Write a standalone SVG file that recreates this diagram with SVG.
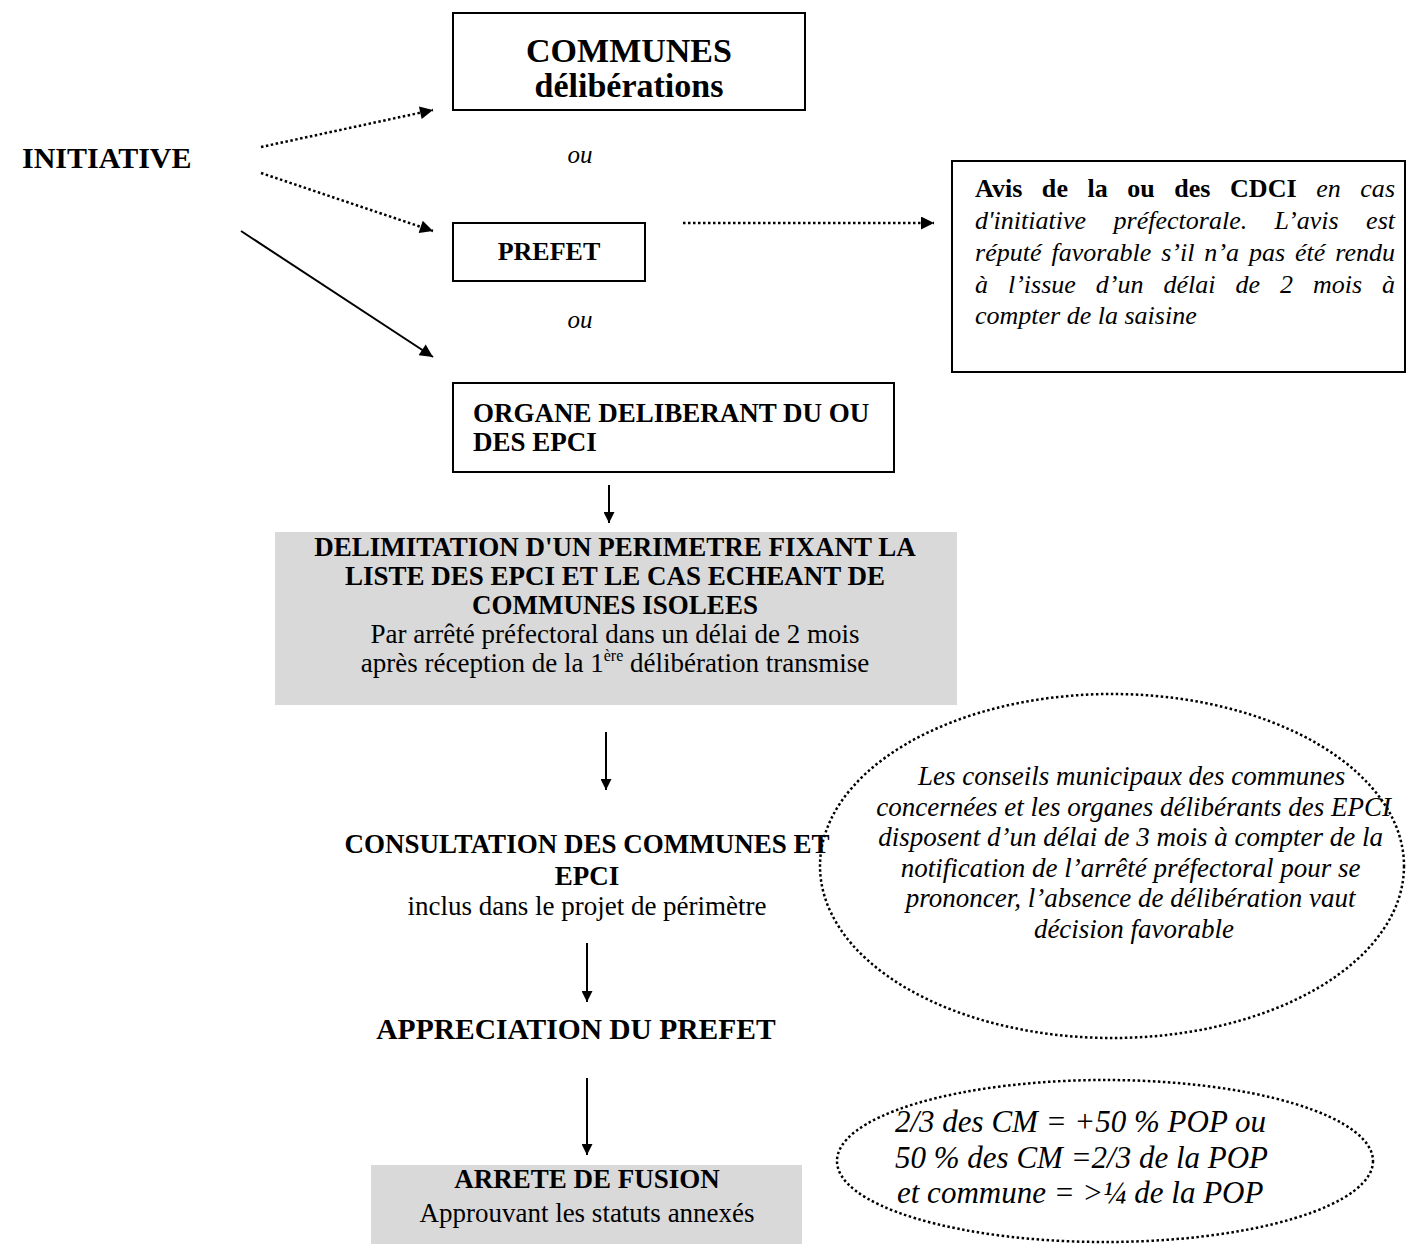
<svg xmlns="http://www.w3.org/2000/svg" width="1407" height="1244" viewBox="0 0 1407 1244">
<defs>
<style>
text{font-family:"Liberation Serif","Times New Roman",serif;fill:#000}
.b{font-weight:bold}
.i{font-style:italic}
.box{fill:#fff;stroke:#000;stroke-width:2}
.gray{fill:#d9d9d9;stroke:none}
.solid{stroke:#000;stroke-width:2;fill:none}
.dot{stroke:#000;stroke-width:2.5;fill:none;stroke-dasharray:2.5 2.5}
.oval{stroke:#000;stroke-width:2.5;fill:none;stroke-dasharray:2.5 2.5}
</style>
<marker id="ah" viewBox="0 0 10 10" refX="10" refY="5" markerWidth="16" markerHeight="13" markerUnits="userSpaceOnUse" orient="auto">
<path d="M0,0 L10,5 L0,10 z" fill="#000"/>
</marker>
<marker id="ahv" viewBox="0 0 10 10" refX="10" refY="5" markerWidth="14" markerHeight="11" markerUnits="userSpaceOnUse" orient="auto">
<path d="M0,0 L10,5 L0,10 z" fill="#000"/>
</marker>
</defs>
<rect width="1407" height="1244" fill="#fff"/>

<g id="initiative">
<text class="b" x="22" y="168" font-size="30">INITIATIVE</text>
</g>

<g id="communes">
<rect class="box" x="453" y="13" width="352" height="97"/>
<text class="b" x="629" y="62" font-size="34" text-anchor="middle">COMMUNES</text>
<text class="b" x="629" y="97" font-size="34" text-anchor="middle">délibérations</text>
</g>

<g id="ou1"><text class="i" x="580" y="163" font-size="25" text-anchor="middle">ou</text></g>

<g id="prefet">
<rect class="box" x="453" y="223" width="192" height="58"/>
<text class="b" x="549" y="260" font-size="26" text-anchor="middle">PREFET</text>
</g>

<g id="ou2"><text class="i" x="580" y="328" font-size="25" text-anchor="middle">ou</text></g>

<g id="cdci">
<rect class="box" x="952" y="161" width="453" height="211"/>
<text font-size="26" x="975" y="197" word-spacing="12.9" textLength="420" lengthAdjust="spacing"><tspan class="b">Avis de la ou des CDCI</tspan><tspan class="i"> en cas</tspan></text>
<text class="i" font-size="26" x="975" y="229" word-spacing="20.9" textLength="420" lengthAdjust="spacing">d'initiative préfectorale. L’avis est</text>
<text class="i" font-size="26" x="975" y="261" word-spacing="3.3" textLength="420" lengthAdjust="spacing">réputé favorable s’il n’a pas été rendu</text>
<text class="i" font-size="26" x="975" y="293" word-spacing="13.5" textLength="420" lengthAdjust="spacing">à l’issue d’un délai de 2 mois à</text>
<text class="i" font-size="26" x="975" y="324">compter de la saisine</text>
</g>

<g id="organe">
<rect class="box" x="453" y="383" width="441" height="89"/>
<text class="b" x="473" y="422" font-size="27">ORGANE DELIBERANT DU OU</text>
<text class="b" x="473" y="451" font-size="27">DES EPCI</text>
</g>

<g id="delimitation">
<rect class="gray" x="275" y="532" width="682" height="173"/>
<text class="b" x="615" y="556" font-size="27" text-anchor="middle">DELIMITATION D'UN PERIMETRE FIXANT LA</text>
<text class="b" x="615" y="585" font-size="27" text-anchor="middle">LISTE DES EPCI ET LE CAS ECHEANT DE</text>
<text class="b" x="615" y="614" font-size="27" text-anchor="middle">COMMUNES ISOLEES</text>
<text x="615" y="643" font-size="27" text-anchor="middle">Par arrêté préfectoral dans un délai de 2 mois</text>
<text x="615" y="672" font-size="27" text-anchor="middle">après réception de la 1<tspan font-size="16" dy="-11">ère</tspan><tspan dy="11"> délibération transmise</tspan></text>
</g>

<g id="consultation">
<text class="b" x="587" y="853" font-size="27" text-anchor="middle">CONSULTATION DES COMMUNES  ET</text>
<text class="b" x="587" y="885" font-size="27" text-anchor="middle">EPCI</text>
<text x="587" y="915" font-size="27" text-anchor="middle">inclus dans le projet de périmètre</text>
</g>

<g id="appreciation">
<text class="b" x="576" y="1039" font-size="29.5" text-anchor="middle">APPRECIATION DU PREFET</text>
</g>

<g id="arrete">
<rect class="gray" x="371" y="1165" width="431" height="79"/>
<text class="b" x="587" y="1188" font-size="27" text-anchor="middle">ARRETE DE FUSION</text>
<text x="587" y="1222" font-size="27" text-anchor="middle">Approuvant les statuts annexés</text>
</g>

<g id="note-conseils">
<ellipse class="oval" cx="1112" cy="866" rx="292" ry="172"/>
<text class="i" font-size="27" text-anchor="middle">
<tspan x="1135" y="785">Les conseils municipaux des communes</tspan>
<tspan x="1137" y="816">concernées et les organes délibérants des EPCI</tspan>
<tspan x="1134" y="846">disposent d’un délai de 3 mois à compter de la</tspan>
<tspan x="1134" y="877">notification de l’arrêté préfectoral pour se</tspan>
<tspan x="1134" y="907">prononcer, l’absence de délibération vaut</tspan>
<tspan x="1134" y="938">décision favorable</tspan>
</text>
</g>

<g id="note-majorite">
<ellipse class="oval" cx="1105" cy="1161" rx="268" ry="81"/>
<text class="i" font-size="31">
<tspan x="895" y="1132">2/3 des CM = +50 % POP ou</tspan>
<tspan x="895" y="1168">50 % des CM =2/3 de la POP</tspan>
<tspan x="897" y="1203">et commune = &gt;¼ de la POP</tspan>
</text>
</g>

<g id="connectors">
<line class="dot" x1="261" y1="147" x2="433" y2="110" marker-end="url(#ah)"/>
<line class="dot" x1="261" y1="173" x2="433" y2="231" marker-end="url(#ah)"/>
<line class="solid" x1="241" y1="231" x2="433" y2="357" marker-end="url(#ah)"/>
<line class="dot" x1="683" y1="223" x2="934" y2="223" marker-end="url(#ah)"/>
<line class="solid" x1="609" y1="485" x2="609" y2="523" marker-end="url(#ahv)"/>
<line class="solid" x1="606" y1="732" x2="606" y2="790" marker-end="url(#ahv)"/>
<line class="solid" x1="587" y1="943" x2="587" y2="1002" marker-end="url(#ahv)"/>
<line class="solid" x1="587" y1="1078" x2="587" y2="1155" marker-end="url(#ahv)"/>
</g>
</svg>
